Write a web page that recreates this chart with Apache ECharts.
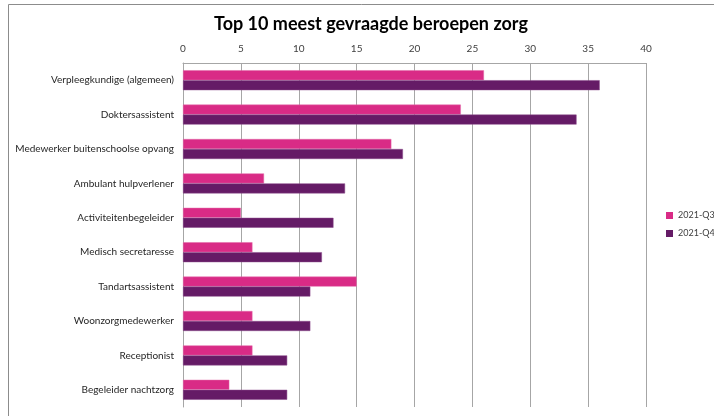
<!DOCTYPE html>
<html>
<head>
<meta charset="utf-8">
<script src="https://cdn.jsdelivr.net/npm/echarts@6/dist/echarts.min.js"></script>
<style>html,body{margin:0;padding:0;background:#fff}#c{width:714px;height:416px}</style>
</head>
<body>
<div id="c"></div>
<script>
var categories = ["Verpleegkundige (algemeen)","Doktersassistent","Medewerker buitenschoolse opvang","Ambulant hulpverlener","Activiteitenbegeleider","Medisch secretaresse","Tandartsassistent","Woonzorgmedewerker","Receptionist","Begeleider nachtzorg"];
var q3 = [26,24,18,7,5,6,15,6,6,4];
var q4 = [36,34,19,14,13,12,11,11,9,9];
var seriesNames = ["2021-Q3","2021-Q4"];
var FONT = "Lato";
var chart = echarts.init(document.getElementById('c'));
chart.setOption({
  animation:false,
  textStyle:{fontFamily:FONT},
  title:{text:"Top 10 meest gevraagde beroepen zorg",left:366,textAlign:'center',top:10,
    textStyle:{fontFamily:FONT,fontSize:18,fontWeight:'bold',color:'#000'}},
  graphic:[{type:'rect',shape:{x:8.5,y:4.5,width:800,height:500},style:{fill:'none',stroke:'#8c8c8c',lineWidth:1},z:-10}],
  legend:{orient:'vertical',left:666,top:211,padding:0,itemWidth:7,itemHeight:7,itemGap:9,icon:'rect',
    itemStyle:{borderWidth:0},
    textStyle:{fontFamily:FONT,fontSize:9,color:'#404040'},data:seriesNames},
  grid:{left:183,right:68,top:63,bottom:9,containLabel:false},
  xAxis:{type:'value',position:'top',min:0,max:40,interval:5,
    axisLine:{show:true,lineStyle:{color:'#a6a6a6'}},axisTick:{show:false},
    axisLabel:{fontSize:10,color:'#404040',margin:9,fontFamily:FONT},
    splitLine:{show:true,lineStyle:{color:'#a6a6a6'}}},
  yAxis:{type:'category',inverse:true,data:categories,
    axisLine:{show:true,lineStyle:{color:'#a6a6a6'}},axisTick:{show:false},
    axisLabel:{fontSize:10,color:'#262626',margin:9,fontFamily:FONT}},
  series:[
    {name:seriesNames[0],type:'bar',data:q3,barGap:'0%',barCategoryGap:'42%',
      itemStyle:{color:'#d92b86',borderColor:'#e36aa8',borderWidth:0.5}},
    {name:seriesNames[1],type:'bar',data:q4,
      itemStyle:{color:'#651b66',borderColor:'#8a4a8a',borderWidth:0.5}}
  ]
});
</script>
</body>
</html>
